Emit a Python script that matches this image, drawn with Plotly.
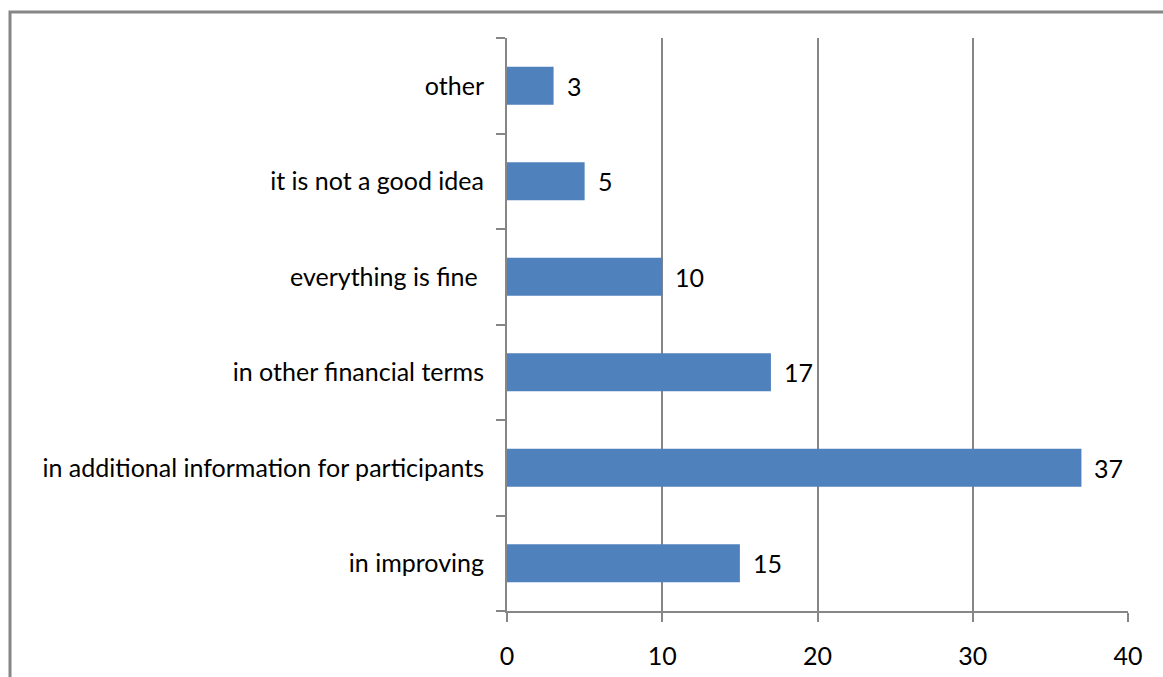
import plotly.graph_objects as go

categories = ["in improving", "in additional information for participants",
              "in other financial terms", "everything is fine ",
              "it is not a good idea", "other"]
values = [15, 37, 17, 10, 5, 3]
x_ticks = [0, 10, 20, 30, 40]

W, H = 1163, 677
ml, mr, mt, mb = 507, 35, 38, 66
pw, ph = W - ml - mr, H - mt - mb

grid = "#868686"
font = dict(family="Lato, Calibri, sans-serif", size=25, color="#000000")

fig = go.Figure(go.Bar(
    y=categories, x=values, orientation="h",
    marker=dict(color="#4F81BD", line=dict(width=0)),
    width=0.4, hoverinfo="skip",
))

for c, v in zip(categories, values):
    fig.add_annotation(x=v, y=c, text=str(v), showarrow=False,
                       xanchor="left", yanchor="middle", xshift=11,
                       font=font)

fig.update_layout(
    width=W, height=H, margin=dict(l=ml, r=mr, t=mt, b=mb),
    plot_bgcolor="white", paper_bgcolor="white", font=font,
    showlegend=False,
    xaxis=dict(range=[0, 40], tickvals=x_ticks, showgrid=True, gridcolor=grid,
               gridwidth=2, zeroline=False, showline=True, linecolor=grid,
               linewidth=2, ticks="outside", ticklen=9, tickcolor=grid,
               tickwidth=2, ticklabelstandoff=13, tickfont=font,
               automargin=False),
    yaxis=dict(showline=True, linecolor=grid, linewidth=2, ticks="outside",
               ticklen=9, tickcolor=grid, tickwidth=2, tickson="boundaries",
               showgrid=False, ticklabelstandoff=16, tickfont=font,
               automargin=False),
)

# outer chart frame (left and top visible)
x0 = (10 - ml) / pw
y1 = 1 + (mt - 12) / ph
fig.add_shape(type="rect", xref="paper", yref="paper",
              x0=x0, x1=(W + 20 - ml) / pw, y0=-(mb + 20) / ph, y1=y1,
              line=dict(color=grid, width=3), layer="below")

fig.write_html("out.html", config={"displayModeBar": False},
               post_script="document.body.style.margin='0';document.body.style.overflow='hidden';")
